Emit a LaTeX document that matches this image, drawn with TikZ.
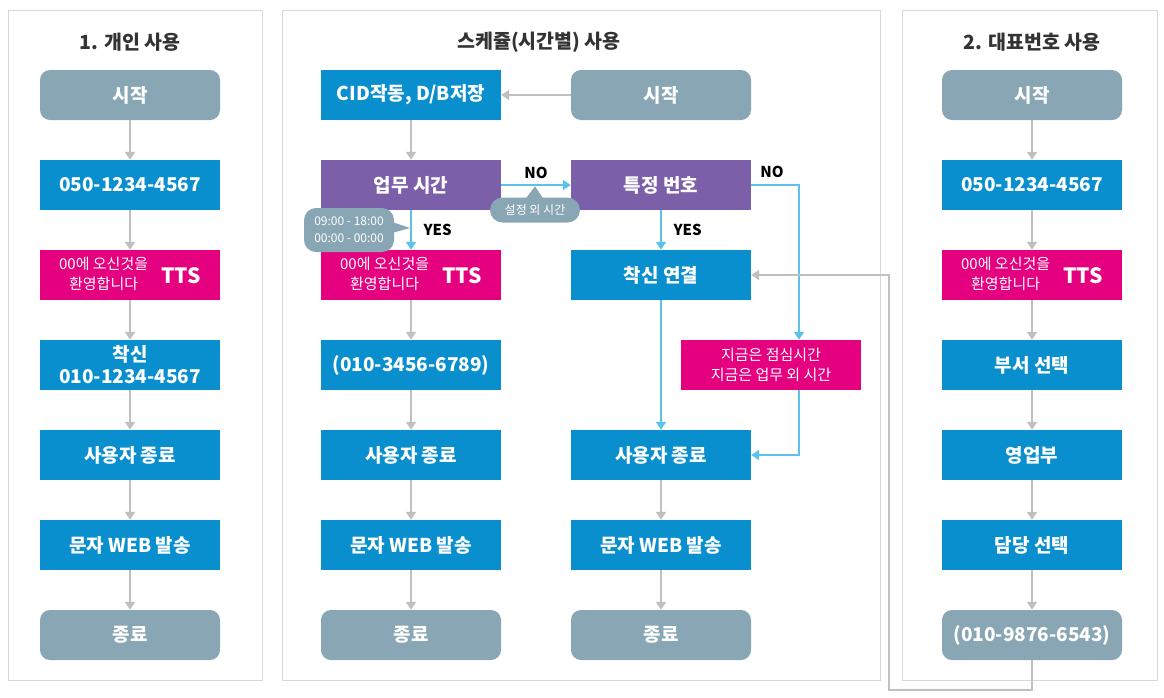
\documentclass[tikz,border=0pt]{standalone}
\usepackage{fontspec}
\setmainfont{Noto Sans CJK KR}
\usetikzlibrary{arrows.meta, positioning, calc}

\definecolor{stepgray}{HTML}{88A6B3}
\definecolor{stepblue}{HTML}{0A8FCE}
\definecolor{steppurple}{HTML}{7B5FA8}
\definecolor{steppink}{HTML}{E4007F}
\definecolor{flowblue}{HTML}{5BC2EC}
\definecolor{flowgray}{HTML}{C0C0C0}
\definecolor{framegray}{HTML}{D8D8D8}

\newcommand{\welcome}{{\fontsize{15}{20}\selectfont\mdseries\begin{tabular}{@{}c@{}}00에 오신것을\\환영합니다\end{tabular}}\hspace{13pt}{\fontsize{21}{21}\selectfont\raisebox{-5pt}{\begin{tabular}{@{}c@{}}TTS\end{tabular}}}}

\begin{document}
\begin{tikzpicture}[
    x=1pt, y=-1pt,
    box/.style={minimum width=180pt, minimum height=50pt, inner sep=0pt, text=white, font=\fontsize{19}{22}\selectfont\bfseries, align=center},
    endbox/.style={box, fill=stepgray, rounded corners=10pt},
    bluebox/.style={box, fill=stepblue},
    purplebox/.style={box, fill=steppurple},
    ttsbox/.style={box, fill=steppink},
    title/.style={font=\fontsize{19.5}{22}\selectfont\bfseries, text=black!80},
    yesno/.style={font=\fontsize{15}{16}\selectfont\bfseries, text=black},
    bubble/.style={fill=stepgray, text=white, inner sep=0pt, align=center, font=\fontsize{12}{17}\selectfont},
    arr/.style={-{Triangle[width=10pt,length=8pt]}, line width=2.5pt, draw=flowgray},
    barr/.style={-{Triangle[width=10pt,length=8pt]}, line width=2.5pt, draw=flowblue},
]
    \useasboundingbox (0,0) rectangle (1164,697);

    % panels
    \draw[framegray, line width=1pt] (8,10) rectangle (262,680);
    \draw[framegray, line width=1pt] (282,10) rectangle (880,680);
    \draw[framegray, line width=1pt] (902,10) rectangle (1157,680);

    \node[title] (tp) at (130,42) {1. 개인 사용};
    \node[title] (ts) at (539,42) {스케쥴(시간별) 사용};
    \node[title] (td) at (1032,42) {2. 대표번호 사용};

    % 1. personal
    \node[endbox] (p1) at (130,95) {시작};
    \node[bluebox] (p2) at (130,185) {050-1234-4567};
    \node[ttsbox] (p3) at (130,275) {\welcome};
    \node[bluebox] (p4) at (130,365) {착신\\010-1234-4567};
    \node[bluebox] (p5) at (130,455) {사용자 종료};
    \node[bluebox] (p6) at (130,545) {문자 WEB 발송};
    \node[endbox] (p7) at (130,635) {종료};

    \draw[arr] (p1) -- (p2);
    \draw[arr] (p2) -- (p3);
    \draw[arr] (p3) -- (p4);
    \draw[arr] (p4) -- (p5);
    \draw[arr] (p5) -- (p6);
    \draw[arr] (p6) -- (p7);

    % schedule
    \node[bluebox] (s1) at (411,95) {CID작동, D/B저장};
    \node[purplebox] (s2) at (411,185) {업무 시간};
    \node[ttsbox] (s3) at (411,275) {\welcome};
    \node[bluebox] (s4) at (411,365) {(010-3456-6789)};
    \node[bluebox] (s5) at (411,455) {사용자 종료};
    \node[bluebox] (s6) at (411,545) {문자 WEB 발송};
    \node[endbox] (s7) at (411,635) {종료};

    \node[endbox] (t1) at (661,95) {시작};
    \node[purplebox] (t2) at (661,185) {특정 번호};
    \node[bluebox] (t3) at (661,275) {착신 연결};
    \node[ttsbox, font=\fontsize{15}{20}\selectfont] (t4) at (771,365) {지금은 점심시간\\지금은 업무 외 시간};
    \node[bluebox] (t5) at (661,455) {사용자 종료};
    \node[bluebox] (t6) at (661,545) {문자 WEB 발송};
    \node[endbox] (t7) at (661,635) {종료};

    \draw[arr] (t1) -- (s1);
    \draw[arr] (s1) -- (s2);
    \draw[arr] (s3) -- (s4);
    \draw[arr] (s4) -- (s5);
    \draw[arr] (s5) -- (s6);
    \draw[arr] (s6) -- (s7);
    \draw[arr] (t5) -- (t6);
    \draw[arr] (t6) -- (t7);

    \draw[barr] (s2) -- node[yesno, above=2pt, pos=0.5] {NO} (t2);
    \draw[barr] (s2) -- node[yesno, right=8pt] {YES} (s3);
    \draw[barr] (t2) -- node[yesno, right=8pt] {YES} (t3);
    \draw[barr] (t3) -- (t5);
    \coordinate (nojog) at (799,185);
    \draw[barr] (t2.east) -- (nojog) -- (nojog |- t4.north);
    \draw[barr] (nojog |- t4.south) |- (t5.east);
    \node[yesno] (no2) at (772,172) {NO};

    % callouts
    \node[bubble, minimum width=90pt, minimum height=44pt, rounded corners=12pt] (hours) at (349,230) {09:00 - 18:00\\00:00 - 00:00};
    \fill[stepgray] ($(hours.east)+(-2,-8)$) -- ($(hours.east)+(16,-2)$) -- ($(hours.east)+(-6,4)$) -- cycle;
    \node[bubble, minimum width=90pt, minimum height=25pt, rounded corners=12.5pt] (offhours) at (535,210) {설정 외 시간};
    \fill[stepgray] ($(offhours.north)+(-9,1)$) -- ($(offhours.north)+(0,-11)$) -- ($(offhours.north)+(8,1)$) -- cycle;

    % 2. main number
    \node[endbox] (d1) at (1032,95) {시작};
    \node[bluebox] (d2) at (1032,185) {050-1234-4567};
    \node[ttsbox] (d3) at (1032,275) {\welcome};
    \node[bluebox] (d4) at (1032,365) {부서 선택};
    \node[bluebox] (d5) at (1032,455) {영업부};
    \node[bluebox] (d6) at (1032,545) {담당 선택};
    \node[endbox] (d7) at (1032,635) {(010-9876-6543)};

    \draw[arr] (d1) -- (d2);
    \draw[arr] (d2) -- (d3);
    \draw[arr] (d3) -- (d4);
    \draw[arr] (d4) -- (d5);
    \draw[arr] (d5) -- (d6);
    \draw[arr] (d6) -- (d7);

    \draw[arr] (d7.south) -- ($(d7.south)+(0,30)$) -| ($(t3.east)+(138,0)$) -- (t3.east);
\end{tikzpicture}
\end{document}
